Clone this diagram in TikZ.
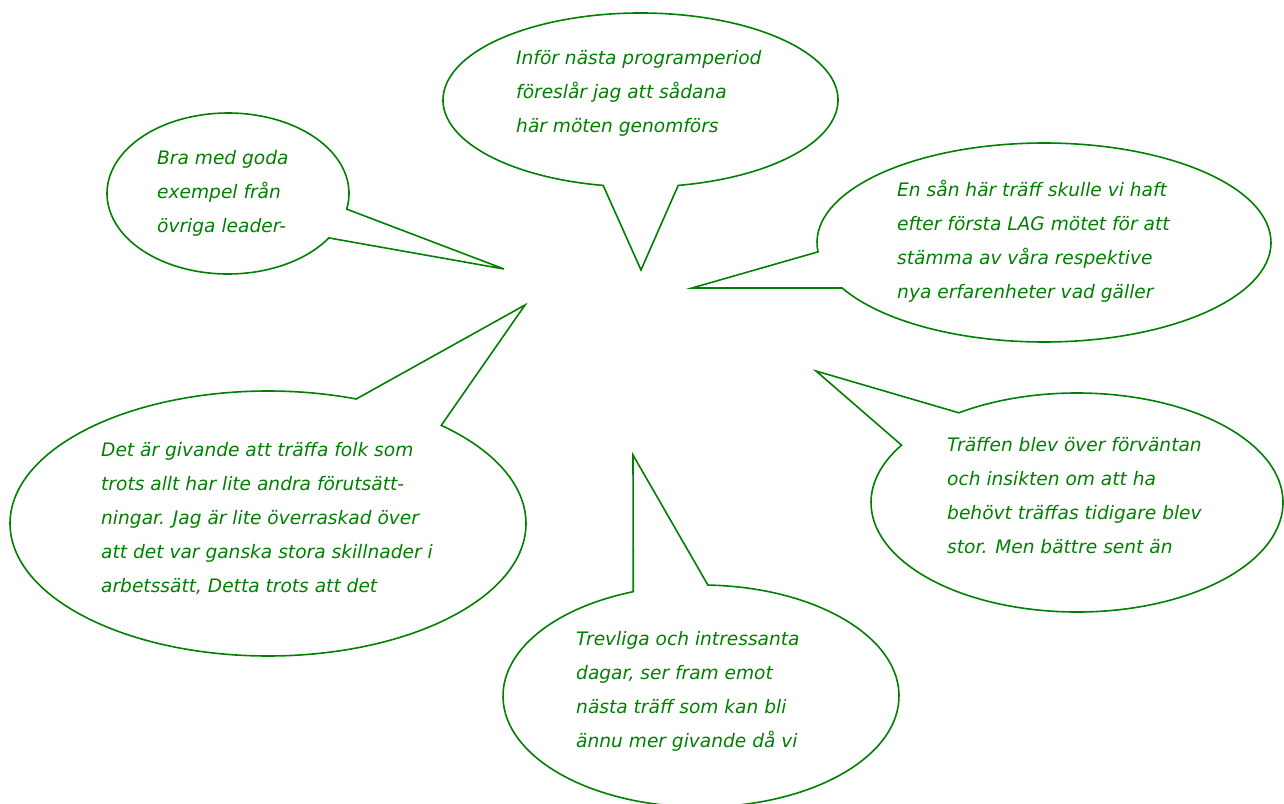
\documentclass[tikz,border=0pt]{standalone}
\usepackage{fontspec}
\setmainfont{DejaVu Sans}[ItalicFont={DejaVu Sans Oblique}]
\definecolor{bubgreen}{RGB}{0,128,0}
\tikzset{
  bub/.style={draw=bubgreen, line width=1.6pt, line join=miter},
  txt/.style={anchor=base west, inner sep=0pt, text=bubgreen, font=\fontsize{18.6}{34}\selectfont\itshape}
}
\newcommand{\bubtxt}[1]{\vtop{\baselineskip=34pt #1}}
\begin{document}
\begin{tikzpicture}[x=1pt,y=-1pt]
\useasboundingbox (0,0) rectangle (1284,803);
% tips of the bubbles
\coordinate (tipA) at (641,270);
\coordinate (tipB) at (504,269);
\coordinate (tipC) at (692,288);
\coordinate (tipD) at (525,305);
\coordinate (tipE) at (816,371);
\coordinate (tipF) at (633,455);
% top bubble
\draw[bub] (tipA) -- ([shift={(640.5,100)}]100.9:197.5 and 87)
  arc[start angle=100.9, end angle=439, x radius=197.5, y radius=87] -- cycle;
% upper left bubble
\draw[bub] (tipB) -- ([shift={(228,193.5)}]33.5:121 and 80.5)
  arc[start angle=33.5, end angle=371.2, x radius=121, y radius=80.5] -- cycle;
% right bubble
\draw[bub] (tipC) -- ([shift={(1044,242.5)}]174.6:227 and 99.5)
  arc[start angle=174.6, end angle=512.8, x radius=227, y radius=99.5] -- cycle;
% lower left bubble
\draw[bub] (tipD) -- ([shift={(268,523.5)}]312.2:258 and 132.5)
  arc[start angle=312.2, end angle=650, x radius=258, y radius=132.5] -- cycle;
% lower right bubble
\draw[bub] (tipE) -- ([shift={(1077,502.5)}]235:206 and 109.5)
  arc[start angle=235, end angle=571.6, x radius=206, y radius=109.5] -- cycle;
% bottom bubble
\draw[bub] (tipF) -- ([shift={(701,696)}]272:198 and 111)
  arc[start angle=272, end angle=610, x radius=198, y radius=111] -- cycle;
% texts
\node[txt] (tA) at (516,64.3) {\bubtxt{\hbox{Inför nästa programperiod}\hbox{föreslår jag att sådana}\hbox{här möten genomförs}}};
\node[txt] (tB) at (157,164) {\bubtxt{\hbox{Bra med goda}\hbox{exempel från}\hbox{övriga leader-}}};
\node[txt] (tC) at (897,196.7) {\bubtxt{\hbox{En sån här träff skulle vi haft}\hbox{efter första LAG mötet för att}\hbox{stämma av våra respektive}\hbox{nya erfarenheter vad gäller}}};
\node[txt] (tD) at (101,456) {\bubtxt{\hbox{Det är givande att träffa folk som}\hbox{trots allt har lite andra förutsätt-}\hbox{ningar. Jag är lite överraskad över}\hbox{att det var ganska stora skillnader i}\hbox{arbetssätt, Detta trots att det}}};
\node[txt] (tE) at (947,451.7) {\bubtxt{\hbox{Träffen blev över förväntan}\hbox{och insikten om att ha}\hbox{behövt träffas tidigare blev}\hbox{stor. Men bättre sent än}}};
\node[txt] (tF) at (576,645) {\bubtxt{\hbox{Trevliga och intressanta}\hbox{dagar, ser fram emot}\hbox{nästa träff som kan bli}\hbox{ännu mer givande då vi}}};
\end{tikzpicture}
\end{document}
